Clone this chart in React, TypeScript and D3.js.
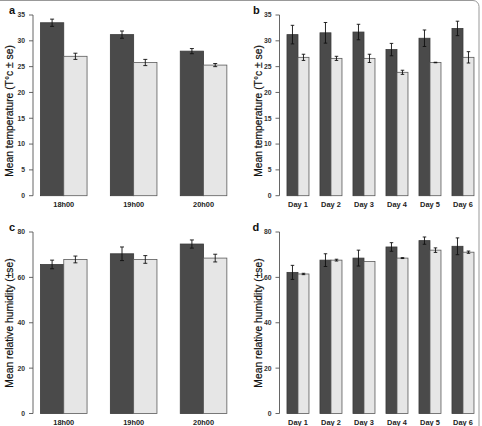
import React from "react";
import * as d3 from "d3";

const HOURS = ["18h00", "19h00", "20h00"];
const DAYS = ["Day 1", "Day 2", "Day 3", "Day 4", "Day 5", "Day 6"];

const TEMP_TICKS = [0, 5, 10, 15, 20, 25, 30, 35];
const HUM_TICKS = [0, 20, 40, 60, 80];

const tempHourDark = [33.5, 31.2, 28.0];
const tempHourDarkSe = [0.7, 0.7, 0.5];
const tempHourLight = [27.0, 25.8, 25.3];
const tempHourLightSe = [0.6, 0.6, 0.3];

const tempDayDark = [31.2, 31.55, 31.7, 28.3, 30.5, 32.4];
const tempDayDarkSe = [1.8, 2.0, 1.5, 1.2, 1.6, 1.4];
const tempDayLight = [26.8, 26.6, 26.6, 23.9, 25.8, 26.8];
const tempDayLightSe = [0.6, 0.4, 0.8, 0.4, 0.05, 1.1];

const humHourDark = [65.7, 70.4, 74.7];
const humHourDarkSe = [1.9, 3.0, 1.8];
const humHourLight = [67.9, 67.9, 68.5];
const humHourLightSe = [1.5, 1.7, 1.7];

const humDayDark = [62.2, 67.6, 68.5, 73.4, 76.2, 73.7];
const humDayDarkSe = [3.1, 2.8, 3.5, 1.9, 1.6, 3.7];
const humDayLight = [61.5, 67.6, 67.0, 68.5, 72.0, 71.1];
const humDayLightSe = [0.3, 0.4, 0.0, 0.2, 1.0, 0.5];

const TEMP_TITLE = "Mean temperature (T°c ± se)";
const HUM_TITLE = "Mean relative humidity (±se)";

const DARK = "#4a4a4a";
const LIGHT = "#e6e6e6";
const FONT = "Liberation Sans, Arial, sans-serif";

type PanelProps = {
  letter: string;
  cats: string[];
  dark: number[];
  darkSe: number[];
  light: number[];
  lightSe: number[];
  ticks: number[];
  yMax: number;
  title: string;
  axisX: number;
  unit: number;
  yTop: number;
  yBottom: number;
  titleX: number;
  titleY: number;
  letterX: number;
  letterY: number;
};

function Panel(p: PanelProps) {
  const n = p.cats.length;
  const span = 3 * n;
  const ext = (span - 1) * 0.04;
  const x = d3
    .scaleLinear()
    .domain([1 - ext, span + ext])
    .range([p.axisX, p.axisX + (span - 1 + 2 * ext) * p.unit]);
  const y = d3.scaleLinear().domain([0, p.yMax]).range([p.yBottom, p.yTop]);
  const cap = Math.min(p.unit * 0.16, 2);

  const bars: React.ReactNode[] = [];
  p.cats.forEach((c, i) => {
    const l0 = 1 + 3 * i;
    const series = [
      { v: p.dark[i], se: p.darkSe[i], l: l0, fill: DARK, stroke: "#3a3a3a" },
      { v: p.light[i], se: p.lightSe[i], l: l0 + 1, fill: LIGHT, stroke: "#5a5a5a" },
    ];
    series.forEach((s, j) => {
      const xl = x(s.l);
      const xr = x(s.l + 1);
      const cx = (xl + xr) / 2;
      bars.push(
        <rect
          key={`b${i}-${j}`}
          x={xl}
          y={y(s.v)}
          width={xr - xl}
          height={y(0) - y(s.v)}
          fill={s.fill}
          stroke={s.stroke}
          strokeWidth={0.8}
        />
      );
      if (s.se > 0) {
        const t = y(s.v + s.se);
        const b = y(s.v - s.se);
        bars.push(
          <g key={`e${i}-${j}`} stroke="#111" strokeWidth={0.9}>
            <line x1={cx} x2={cx} y1={t} y2={b} />
            <line x1={cx - cap} x2={cx + cap} y1={t} y2={t} />
            <line x1={cx - cap} x2={cx + cap} y1={b} y2={b} />
          </g>
        );
      }
    });
    bars.push(
      <text
        key={`c${i}`}
        x={x(l0 + 1)}
        y={p.yBottom + 11}
        textAnchor="middle"
        fontSize={7.4}
        fontWeight="bold"
        fill="#222"
        fontFamily={FONT}
      >
        {c}
      </text>
    );
  });

  return (
    <g>
      <text
        x={p.letterX}
        y={p.letterY}
        fontSize={11}
        fontWeight="bold"
        fill="#111"
        fontFamily={FONT}
      >
        {p.letter}
      </text>
      <line
        x1={p.axisX}
        x2={p.axisX}
        y1={y(p.ticks[0])}
        y2={y(p.ticks[p.ticks.length - 1])}
        stroke="#555"
        strokeWidth={0.9}
      />
      {p.ticks.map((t) => (
        <g key={t}>
          <line
            x1={p.axisX - 4}
            x2={p.axisX}
            y1={y(t)}
            y2={y(t)}
            stroke="#555"
            strokeWidth={0.9}
          />
          <text
            x={p.axisX - 8}
            y={y(t) + 2.4}
            textAnchor="end"
            fontSize={6.8}
            fontWeight="bold"
            fill="#333"
            fontFamily={FONT}
          >
            {t}
          </text>
        </g>
      ))}
      <text
        transform={`translate(${p.titleX},${p.titleY}) rotate(-90)`}
        textAnchor="middle"
        fontSize={10.3}
        fill="#111"
        stroke="#111"
        strokeWidth={0.2}
        fontFamily={FONT}
      >
        {p.title}
      </text>
      {bars}
    </g>
  );
}

export default function App() {
  return (
    <svg
      width={482}
      height={426}
      style={{ position: "absolute", left: 0, top: 0, background: "#fff" }}
    >
      <rect x={-10} y={0.5} width={489} height={440} rx={6} fill="#fff" stroke="#999" strokeWidth={1} />
      <Panel
        letter="a"
        cats={HOURS}
        dark={tempHourDark}
        darkSe={tempHourDarkSe}
        light={tempHourLight}
        lightSe={tempHourLightSe}
        ticks={TEMP_TICKS}
        yMax={35}
        title={TEMP_TITLE}
        axisX={33}
        unit={23.3}
        yTop={15}
        yBottom={195.7}
        titleX={12.5}
        titleY={111}
        letterX={9}
        letterY={13.5}
      />
      <Panel
        letter="b"
        cats={DAYS}
        dark={tempDayDark}
        darkSe={tempDayDarkSe}
        light={tempDayLight}
        lightSe={tempDayLightSe}
        ticks={TEMP_TICKS}
        yMax={35}
        title={TEMP_TITLE}
        axisX={279.5}
        unit={11.0}
        yTop={15}
        yBottom={195.7}
        titleX={262}
        titleY={111}
        letterX={253}
        letterY={13.5}
      />
      <Panel
        letter="c"
        cats={HOURS}
        dark={humHourDark}
        darkSe={humHourDarkSe}
        light={humHourLight}
        lightSe={humHourLightSe}
        ticks={HUM_TICKS}
        yMax={80}
        title={HUM_TITLE}
        axisX={33}
        unit={23.3}
        yTop={232}
        yBottom={413.5}
        titleX={12.5}
        titleY={323}
        letterX={9}
        letterY={230.5}
      />
      <Panel
        letter="d"
        cats={DAYS}
        dark={humDayDark}
        darkSe={humDayDarkSe}
        light={humDayLight}
        lightSe={humDayLightSe}
        ticks={HUM_TICKS}
        yMax={80}
        title={HUM_TITLE}
        axisX={279.5}
        unit={11.0}
        yTop={232}
        yBottom={413.5}
        titleX={262}
        titleY={323}
        letterX={252.5}
        letterY={230.5}
      />
    </svg>
  );
}
